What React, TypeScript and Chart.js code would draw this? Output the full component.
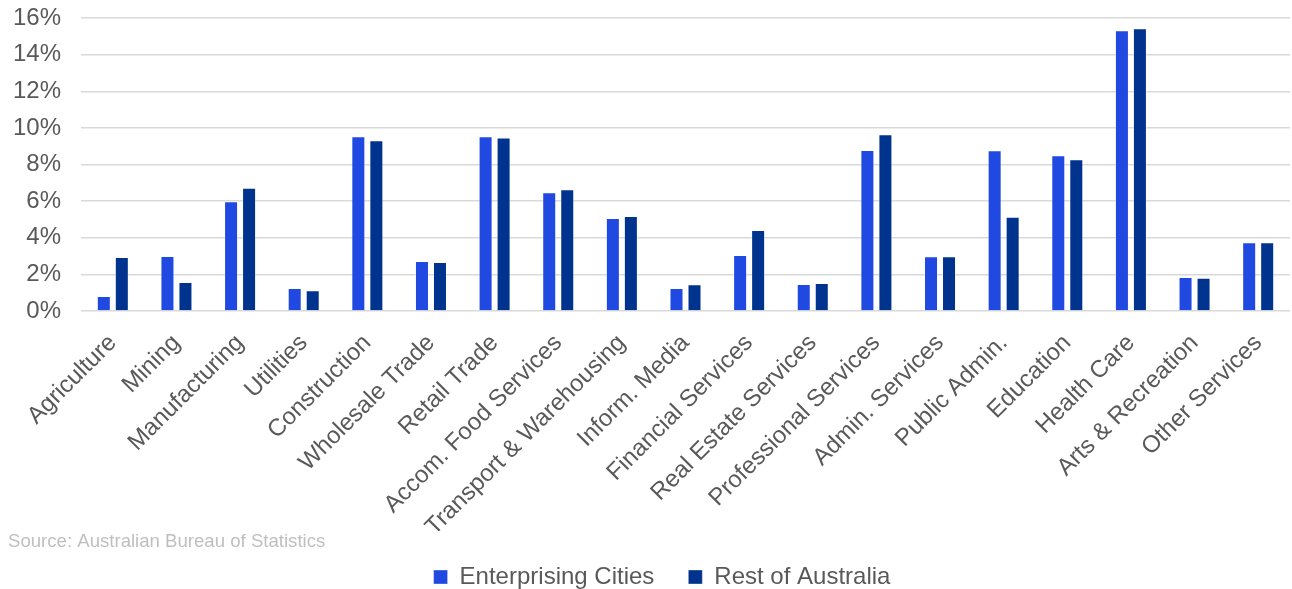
import React, { useEffect, useRef } from "react";
import { Chart, registerables } from "chart.js";

Chart.register(...registerables);

const categories = [
  "Agriculture",
  "Mining",
  "Manufacturing",
  "Utilities",
  "Construction",
  "Wholesale Trade",
  "Retail Trade",
  "Accom. Food Services",
  "Transport & Warehousing",
  "Inform. Media",
  "Financial Services",
  "Real Estate Services",
  "Professional Services",
  "Admin. Services",
  "Public Admin.",
  "Education",
  "Health Care",
  "Arts & Recreation",
  "Other Services",
];

const enterprisingCities = [
  0.82, 3.0, 6.0, 1.26, 9.54, 2.73, 9.54, 6.48, 5.08, 1.26, 3.06, 1.47, 8.79,
  2.99, 8.78, 8.5, 15.33, 1.86, 3.75,
];

const restOfAustralia = [
  2.95, 1.58, 6.73, 1.13, 9.32, 2.68, 9.47, 6.65, 5.19, 1.46, 4.42, 1.53, 9.65,
  2.99, 5.15, 8.28, 15.44, 1.82, 3.75,
];

const seriesNames = ["Enterprising Cities", "Rest of Australia"];
const yTickMin = 0;
const yTickMax = 16;
const yTickStep = 2;
const sourceText = "Source: Australian Bureau of Statistics";

const FONT = "'Liberation Sans', Arial, sans-serif";
const LEGEND_SHIFT = 17;

export default function App() {
  const canvasRef = useRef<HTMLCanvasElement | null>(null);

  useEffect(() => {
    document.body.style.margin = "0";
    const canvas = canvasRef.current;
    if (!canvas) return;

    const sourcePlugin = {
      id: "sourceNote",
      afterLayout(chart: any) {
        if (chart.legend) {
          chart.legend.left += LEGEND_SHIFT;
          chart.legend.right += LEGEND_SHIFT;
        }
      },
      afterDraw(chart: any) {
        const ctx = chart.ctx;
        ctx.save();
        ctx.font = `18.6px ${FONT}`;
        ctx.fillStyle = "#BFBFBF";
        ctx.textAlign = "left";
        ctx.textBaseline = "middle";
        const legendTop = chart.legend ? chart.legend.top : chart.height - 58;
        ctx.fillText(sourceText, 8, legendTop + 11);
        ctx.restore();
      },
    };

    const chart = new Chart(canvas, {
      type: "bar",
      data: {
        labels: categories,
        datasets: [
          {
            label: seriesNames[0],
            data: enterprisingCities,
            backgroundColor: "#1F49E0",
            borderColor: "rgba(255,255,255,0.35)",
            borderWidth: 1,
            categoryPercentage: 0.566,
            barPercentage: 0.778,
          },
          {
            label: seriesNames[1],
            data: restOfAustralia,
            backgroundColor: "#00338D",
            borderColor: "rgba(255,255,255,0.35)",
            borderWidth: 1,
            categoryPercentage: 0.566,
            barPercentage: 0.778,
          },
        ],
      },
      options: {
        responsive: false,
        animation: false,
        maintainAspectRatio: false,
        layout: { padding: { top: 18, right: 2, left: 0, bottom: -10 } },
        plugins: {
          legend: {
            position: "bottom",
            labels: {
              boxWidth: 14,
              boxHeight: 14,
              padding: 34,
              color: "#595959",
              font: { family: FONT, size: 24 },
            },
          },
          tooltip: { enabled: false },
        },
        scales: {
          x: {
            grid: { display: false },
            border: { display: false },
            ticks: {
              color: "#595959",
              font: { family: FONT, size: 24 },
              minRotation: 45,
              maxRotation: 45,
              autoSkip: false,
              padding: 10,
            },
            afterFit(scale: any) {
              scale.height = 220;
            },
          },
          y: {
            min: yTickMin,
            max: yTickMax,
            border: { display: false },
            grid: { color: "#D9D9D9", lineWidth: 1.5, drawTicks: false },
            ticks: {
              stepSize: yTickStep,
              color: "#595959",
              font: { family: FONT, size: 24 },
              padding: 20,
              callback: (v: any) => `${v}%`,
            },
            afterFit(scale: any) {
              scale.width = 81;
              scale.paddingTop = 0;
              scale.paddingBottom = 0;
            },
          },
        },
      },
      plugins: [sourcePlugin],
    });

    return () => chart.destroy();
  }, []);

  return (
    <div style={{ position: "fixed", left: 0, top: 0, width: 1292, height: 589 }}>
      <canvas ref={canvasRef} width={1292} height={589} />
    </div>
  );
}
